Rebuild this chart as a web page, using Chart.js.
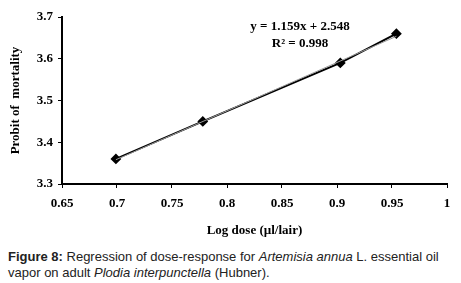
<!DOCTYPE html>
<html>
<head>
<meta charset="utf-8">
<script src="https://cdn.jsdelivr.net/npm/chart.js@4"></script>
<style>
  html, body { margin: 0; padding: 0; background: #fff; }
  #wrap { position: relative; width: 461px; height: 240px; }
  #caption {
    font-family: "Liberation Sans", Arial, sans-serif;
    font-size: 13px; line-height: 16px; color: #222;
    margin: 9px 0 0 8px; width: 450px;
  }
</style>
</head>
<body>
<div id="wrap"><canvas id="doseChart" width="461" height="240"></canvas></div>
<div id="caption"><b>Figure 8:</b> Regression of dose-response for <i>Artemisia annua</i> L. essential oil vapor on adult <i>Plodia interpunctella</i> (Hubner).</div>
<script>
// observed points
const logDose = [0.699, 0.778, 0.903, 0.954];
const probit = [3.36, 3.45, 3.59, 3.66];
// linear trendline shown on the chart
const slope = 1.159;
const intercept = 2.548;
const trendX = [0.699, 0.954];
const xTicks = [0.65, 0.7, 0.75, 0.8, 0.85, 0.9, 0.95, 1];
const yTicks = [3.3, 3.4, 3.5, 3.6, 3.7];

const serif = "'Liberation Serif', 'Times New Roman', serif";

const equationLabel = {
  id: 'equationLabel',
  afterDatasetsDraw(chart) {
    const c = chart.ctx;
    c.save();
    c.font = 'bold 13px ' + serif;
    c.fillStyle = '#000';
    c.textAlign = 'center';
    c.textBaseline = 'middle';
    c.fillText('y = ' + slope + 'x + ' + intercept, 300, 27);
    c.fillText('R² = 0.998', 300, 44);
    c.restore();
  }
};

const data = {
  datasets: [{
    label: 'probit',
    data: logDose.map((x, i) => ({ x: x, y: probit[i] })),
    borderColor: '#000',
    backgroundColor: '#000',
    borderWidth: 2,
    pointStyle: 'rectRot',
    pointRadius: 4,
    order: 2
  }, {
    label: 'trend',
    data: trendX.map(x => ({ x: x, y: slope * x + intercept })),
    borderColor: '#999',
    borderWidth: 1,
    pointRadius: 0,
    order: 1
  }]
};

const config = {
  type: 'line',
  data: data,
  options: {
    responsive: false,
    animation: false,
    layout: { padding: { top: 17, right: 14, left: 0, bottom: 0 } },
    plugins: { legend: { display: false }, tooltip: { enabled: false } },
    scales: {
      x: {
        type: 'linear',
        min: 0.65, max: 1,
        afterBuildTicks(s) { s.ticks = xTicks.map(v => ({ value: v })); },
        afterFit(s) { s.height = 56; },
        border: { color: '#000', width: 2 },
        grid: { drawOnChartArea: false, drawTicks: true, tickLength: 4, color: '#000' },
        ticks: { color: '#000', padding: 8, font: { family: serif, size: 13, weight: 'bold' },
                 callback: v => String(+v.toFixed(2)) },
        title: {
          display: true, text: 'Log dose (µl/lair)', color: '#000',
          font: { family: serif, size: 13, weight: 'bold' }, padding: { top: 4, bottom: 2 }
        }
      },
      y: {
        min: 3.3, max: 3.7,
        afterBuildTicks(s) { s.ticks = yTicks.map(v => ({ value: v })); },
        afterFit(s) { s.width = 62; },
        border: { color: '#000', width: 2 },
        grid: { drawOnChartArea: false, drawTicks: true, tickLength: 4, color: '#000' },
        ticks: { color: '#000', padding: 5, font: { family: serif, size: 13, weight: 'bold' },
                 callback: v => v.toFixed(1) },
        title: {
          display: true, text: 'Probit of  mortality', color: '#000',
          font: { family: serif, size: 13, weight: 'bold' }, padding: { top: 8, bottom: 4 }
        }
      }
    }
  },
  plugins: [equationLabel]
};

var ctx = document.getElementById('doseChart').getContext('2d');
var doseChart = new Chart(ctx, config);
</script>
</body>
</html>
